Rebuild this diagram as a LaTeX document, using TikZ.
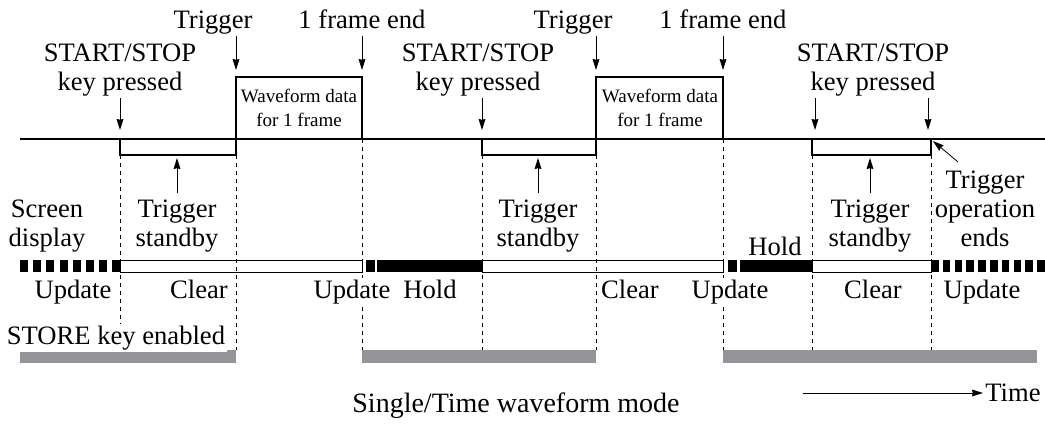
\documentclass[tikz,border=0pt]{standalone}
\usepackage{fontspec}
\setmainfont{Liberation Serif}
\usetikzlibrary{arrows.meta}
\definecolor{storegray}{RGB}{147,149,152}

\begin{document}
\begin{tikzpicture}[x=0.5pt,y=-0.5pt,line join=miter,>={Stealth[length=5.5pt,width=3.4pt,inset=0.4pt]},
  every node/.style={inner sep=1pt},
  lbl/.style={font=\fontsize{13.3pt}{14.5pt}\selectfont,align=center,anchor=base},
  toplbl/.style={lbl,text depth=3pt},
  cut/.style={lbl,fill=white},
  small/.style={font=\fontsize{9.5pt}{12pt}\selectfont,align=center,anchor=base},
  pulse/.style={line width=1.2pt},
  hair/.style={line width=0.6pt},
  guide/.style={line width=0.5pt,dash pattern=on 2pt off 2pt}]
  \useasboundingbox (0,0) rectangle (1045,424);
  % instants on the trigger line
  \coordinate (s1) at (120,139);
  \coordinate (t1) at (236,139);
  \coordinate (e1) at (362,139);
  \coordinate (s2) at (482,139);
  \coordinate (t2) at (596,139);
  \coordinate (e2) at (723,139);
  \coordinate (s3) at (812,139);
  \coordinate (s4) at (931,139);
  \coordinate (t1h) at (236,77);
  \coordinate (e1h) at (362,77);
  \coordinate (t2h) at (596,77);
  \coordinate (e2h) at (723,77);
  % dashed guides
  \foreach \x in {120,236,362,482,596,723,812,931} {
    \draw[guide] (\x,139) -- (\x,350);
  }
  % trigger line, standby brackets and frames
  \draw[line width=1pt] (20,139) -- (1045,139);
  \draw[hair] (s1) -- (120,155) -| (t1);
  \draw[hair] (s2) -- (482,155) -| (t2);
  \draw[hair] (s3) -- (812,155) -| (s4);
  \draw[pulse] (t1) -- (t1h) -- (e1h) -- (e1);
  \draw[pulse] (t2) -- (t2h) -- (e2h) -- (e2);
  % screen display bar
  \foreach \i in {0,...,7} {
    \fill ({20+\i*13.2},260) rectangle ({28+\i*13.2},272);
  }
  \foreach \i in {0,...,9} {
    \fill ({931+\i*11.8},260) rectangle ({938.5+\i*11.8},272);
  }
  \draw[line width=0.5pt] (120,260) rectangle (362,272);
  \fill (366,260) rectangle (375,272);
  \fill (377,260) rectangle (482,272);
  \draw[line width=0.5pt] (482,260) rectangle (723,272);
  \fill (728,260) rectangle (737,272);
  \fill (740,260) rectangle (812,272);
  \draw[line width=0.5pt] (812,260) rectangle (931,272);
  % store key bars
  \fill[storegray] (20,350) rectangle (236,363);
  \fill[storegray] (362,350) rectangle (596,363);
  \fill[storegray] (723,350) rectangle (1037,363);
  % labels
  \node[toplbl] (trg1) at (213,28) {Trigger};
  \node[toplbl] (fe1) at (362,28) {1 frame end};
  \node[toplbl] (trg2) at (573,28) {Trigger};
  \node[toplbl] (fe2) at (723,28) {1 frame end};
  \node[lbl] (ss1) at (120,90) {START/STOP\\key pressed};
  \node[lbl] (ss2) at (478,90) {START/STOP\\key pressed};
  \node[lbl] (ss3) at (873,90) {START/STOP\\key pressed};
  \node[small] (wf1) at (299,126) {Waveform data\\for 1 frame};
  \node[small] (wf2) at (660,126) {Waveform data\\for 1 frame};
  \node[lbl] (scr) at (47,246) {Screen\\display};
  \node[lbl] (sb1) at (177,246) {Trigger\\standby};
  \node[lbl] (sb2) at (538,246) {Trigger\\standby};
  \node[lbl] (sb3) at (870,246) {Trigger\\standby};
  \node[lbl] (toe) at (985,246) {Trigger\\operation\\ends};
  \node[lbl] (ho2) at (775,255) {Hold};
  \node[lbl] (up1) at (73,298) {Update};
  \node[lbl] (cl1) at (199,298) {Clear};
  \node[cut] (up2) at (352,298) {Update};
  \node[lbl] (ho1) at (430,298) {Hold};
  \node[lbl] (cl2) at (630,298) {Clear};
  \node[cut] (up3) at (730,298) {Update};
  \node[lbl] (cl3) at (873,298) {Clear};
  \node[lbl] (up4) at (982,298) {Update};
  \node[cut] (store) at (116,344) {STORE key enabled};
  \coordinate (tstart) at (803,393);
  \node[lbl,anchor=west] (time) at (983,393) {Time};
  \node[lbl,font=\fontsize{14pt}{16pt}\selectfont] (title) at (516,412) {Single/Time waveform mode};
  % arrows
  \draw[->,shorten >=3.5pt] (trg1.south -| t1h) -- (t1h);
  \draw[->,shorten >=3.5pt] (fe1.south -| e1h) -- (e1h);
  \draw[->,shorten >=3.5pt] (trg2.south -| t2h) -- (t2h);
  \draw[->,shorten >=3.5pt] (fe2.south -| e2h) -- (e2h);
  \draw[->,shorten >=4.5pt] (ss1.south -| s1) -- (s1);
  \draw[->,shorten >=4.5pt] (ss2.south -| s2) -- (s2);
  \draw[->,shorten >=4.5pt] ([xshift=-29pt]ss3.south) -- ([xshift=1.5pt]s3);
  \draw[->,shorten >=4.5pt] ([xshift=27.5pt]ss3.south) -- ([xshift=-1.5pt]s4);
  \draw[->,shorten >=9.5pt,shorten <=2pt] (sb1.north) -- (sb1.north |- s1);
  \draw[->,shorten >=9.5pt,shorten <=2pt] (sb2.north) -- (sb2.north |- s2);
  \draw[->,shorten >=9.5pt,shorten <=2pt] (sb3.north) -- (sb3.north |- s3);
  \draw[->] ([xshift=-13.5pt,yshift=3pt]toe.north) -- ([xshift=1pt,yshift=-1pt]s4);
  \draw[->] (tstart) -- (time.west);
\end{tikzpicture}
\end{document}
